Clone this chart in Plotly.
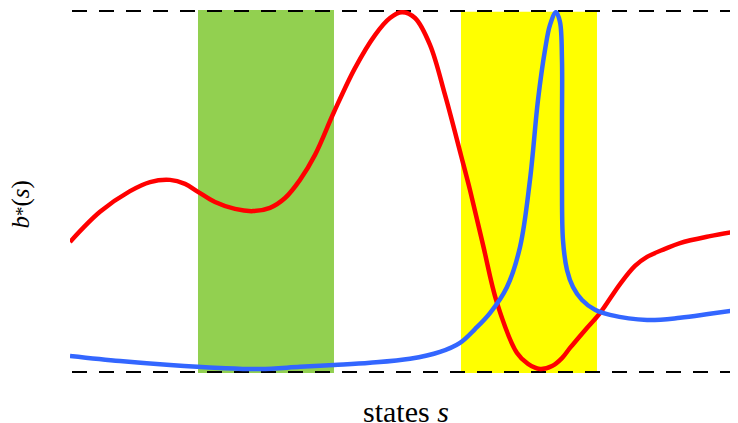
import plotly.graph_objects as go

# states (0..10) and b*(s) values (0..1)
red_s = [0.0, 0.449, 0.898, 1.198, 1.497, 1.722, 1.916, 2.171, 2.470, 2.740, 2.994, 3.219, 3.443, 3.668,
         3.952, 4.266, 4.566, 4.790, 4.970, 5.165, 5.389, 5.614, 5.853, 5.988, 6.183, 6.392, 6.692,
         6.856, 7.036, 7.216, 7.365, 7.485, 7.710, 7.934, 8.234, 8.458, 8.638, 8.907, 9.132, 9.581, 10.0]
red_b = [0.361, 0.444, 0.501, 0.526, 0.532, 0.521, 0.499, 0.471, 0.452, 0.446, 0.455, 0.482, 0.532, 0.601,
         0.719, 0.840, 0.931, 0.978, 0.994, 0.978, 0.904, 0.766, 0.600, 0.504, 0.353, 0.193, 0.055,
         0.025, 0.011, 0.019, 0.041, 0.069, 0.118, 0.165, 0.245, 0.295, 0.320, 0.342, 0.358, 0.377, 0.391]

blue_s = [0.0, 0.749, 1.497, 2.246, 2.844, 3.443, 3.952, 4.491, 5.090, 5.539, 5.838, 6.063, 6.287, 6.542,
          6.737, 6.886, 7.006, 7.111, 7.186, 7.275, 7.335, 7.365, 7.365, 7.365, 7.380, 7.440, 7.530, 7.665,
          7.859, 8.084, 8.638, 9.132, 9.581, 10.0]
blue_b = [0.047, 0.033, 0.022, 0.014, 0.011, 0.017, 0.022, 0.028, 0.039, 0.058, 0.083, 0.121, 0.165, 0.237,
          0.347, 0.532, 0.752, 0.890, 0.959, 0.994, 0.967, 0.862, 0.697, 0.532, 0.366, 0.284, 0.237, 0.201,
          0.174, 0.160, 0.146, 0.152, 0.163, 0.174]

green_region = [1.916, 3.952]
yellow_region = [5.853, 7.889]
bounds = [0.0, 1.0]

fig = go.Figure()

fig.add_shape(type="rect", xref="x", yref="y", x0=green_region[0], x1=green_region[1],
              y0=bounds[0], y1=bounds[1], fillcolor="#92D050", line_width=0, layer="below")
fig.add_shape(type="rect", xref="x", yref="y", x0=yellow_region[0], x1=yellow_region[1],
              y0=bounds[0], y1=0.995, fillcolor="#FFFF00", line_width=0, layer="below")

for yb in bounds:
    fig.add_trace(go.Scatter(x=[0.03, 10], y=[yb, yb], mode="lines",
                             line=dict(color="black", width=4, dash="15px,12px"),
                             hoverinfo="skip", showlegend=False, cliponaxis=False))

fig.add_trace(go.Scatter(x=red_s, y=red_b, mode="lines",
                         line=dict(color="#FF0000", width=4.5, shape="spline", smoothing=1.0),
                         showlegend=False, cliponaxis=False))
fig.add_trace(go.Scatter(x=blue_s, y=blue_b, mode="lines",
                         line=dict(color="#3366FF", width=4.5, shape="spline", smoothing=1.0),
                         showlegend=False, cliponaxis=False))

fig.update_xaxes(range=[0, 10], visible=False)
fig.update_yaxes(range=[0, 1], visible=False)

serif = "Liberation Serif"
fig.add_annotation(xref="paper", yref="paper", x=0.503, y=-0.1074, xanchor="center", yanchor="middle",
                   text="states <i>s</i>", showarrow=False,
                   font=dict(family=serif, size=30, color="black"))
fig.add_annotation(xref="paper", yref="paper", x=-0.074, y=0.463, xanchor="center", yanchor="middle",
                   text='<i>b</i><span style="font-size:19px">*</span>(<i>s</i>)', textangle=-90,
                   showarrow=False, font=dict(family=serif, size=25, color="black"))

# page body has an 8px margin, so the figure is shrunk by 8px and margins shifted accordingly
fig.update_layout(width=730, height=415, margin=dict(l=62, r=0, t=2, b=50),
                  plot_bgcolor="white", paper_bgcolor="white")

fig.write_html("out.html")
